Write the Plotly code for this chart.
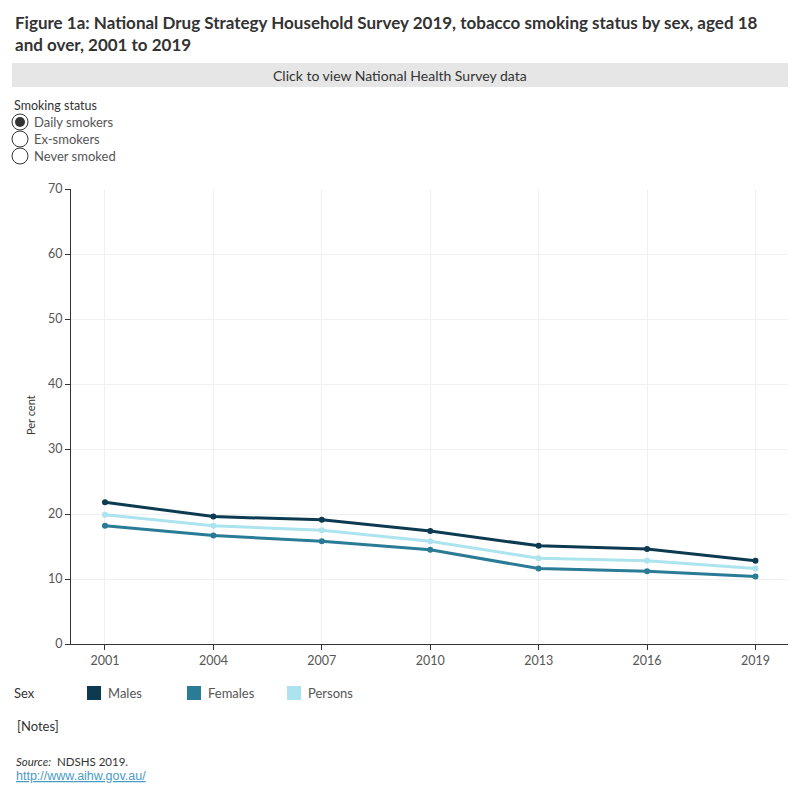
import plotly.graph_objects as go

years = [2001, 2004, 2007, 2010, 2013, 2016, 2019]
males = [21.8, 19.6, 19.1, 17.4, 15.1, 14.6, 12.8]
females = [18.2, 16.7, 15.8, 14.5, 11.6, 11.2, 10.4]
persons = [19.9, 18.2, 17.5, 15.8, 13.2, 12.8, 11.6]
series_names = ["Males", "Females", "Persons"]
colors = ["#0c3a51", "#2a7b96", "#abe3ef"]
y_ticks = [0, 10, 20, 30, 40, 50, 60, 70]
status_options = ["Daily smokers", "Ex-smokers", "Never smoked"]

FONT = "Lato"
W, H = 800, 800
# plot area in page pixels (page has an 8px body margin)
PL, PR, PT, PB = 71, 788, 189, 644
OFF = 8

fig = go.Figure()
for name, vals, col in [("Persons", persons, colors[2]), ("Females", females, colors[1]), ("Males", males, colors[0])]:
    fig.add_trace(go.Scatter(x=years, y=vals, name=name, mode="lines+markers",
                             line=dict(color=col, width=3), marker=dict(color=col, size=6),
                             showlegend=False))

def px(x):
    return (x - PL) / (PR - PL)

def py(y):
    return (PB - y) / (PB - PT)

shapes = []
annotations = []

def txt(x, y, text, size=12, color="#333333", xanchor="left", family=FONT, **kw):
    annotations.append(dict(x=px(x), y=py(y), xref="paper", yref="paper", xanchor=xanchor, yanchor="middle",
                            showarrow=False, text=text, align="left",
                            font=dict(family=family, size=size, color=color), **kw))

# Title
annotations.append(dict(x=px(13), y=py(10), xref="paper", yref="paper", xanchor="left", yanchor="top",
                        align="left", showarrow=False,
                        text="<b>Figure 1a: National Drug Strategy Household Survey 2019, tobacco smoking status by sex, aged 18<br>and over, 2001 to 2019</b>",
                        font=dict(family=FONT, size=17, color="#333333")))
# Button bar
shapes.append(dict(type="rect", xref="paper", yref="paper", x0=px(12), x1=px(788), y0=py(63), y1=py(87),
                   fillcolor="#e6e6e6", line=dict(width=0), layer="below"))
txt(400, 75, "Click to view National Health Survey data", size=14, xanchor="center")
# Radio filter
txt(12, 105, "Smoking status", size=12.5)
for i, opt in enumerate(status_options):
    cy = 122 + i * 17
    shapes.append(dict(type="circle", xref="paper", yref="paper", x0=px(12), x1=px(28), y0=py(cy - 8), y1=py(cy + 8),
                       line=dict(color="#333333", width=1), fillcolor="white"))
    if i == 0:
        shapes.append(dict(type="circle", xref="paper", yref="paper", x0=px(15), x1=px(25), y0=py(cy - 5), y1=py(cy + 5),
                           line=dict(width=0), fillcolor="#333333"))
    txt(32, cy, opt, size=13, color="#555555")

# Axis title
txt(30, 415, "Per cent", size=11, xanchor="center", textangle=-90)

# Legend
txt(12, 693, "Sex", size=13)
leg_x = [87, 187, 287]
for lx, name, col in zip(leg_x, series_names, colors):
    shapes.append(dict(type="rect", xref="paper", yref="paper", x0=px(lx), x1=px(lx + 14), y0=py(700), y1=py(686),
                       fillcolor=col, line=dict(width=0)))
    txt(lx + 19, 693, name, size=13, color="#555555")

txt(15, 726, "[Notes]", size=13)
txt(14, 761, "<i>Source:</i>  NDSHS 2019.", size=11.5)
txt(14, 776, "<u>http://www.aihw.gov.au/</u>", size=12.5, color="#4a9cc3", family="Liberation Sans")

axis_common = dict(showgrid=True, gridcolor="#f0f0f0", gridwidth=1, zeroline=False,
                   showline=True, linecolor="#333333", linewidth=1, ticks="outside", ticklen=5,
                   tickcolor="#333333", tickfont=dict(family=FONT, size=12.5, color="#555555"))

fig.update_layout(
    width=W, height=H, autosize=False,
    paper_bgcolor="white", plot_bgcolor="white",
    margin=dict(l=PL - OFF, r=W - (PR - OFF), t=PT - OFF, b=H - (PB - OFF), pad=0),
    shapes=shapes, annotations=annotations,
    font=dict(family=FONT, size=12, color="#555555"),
    xaxis=dict(range=[2000.06, 2019.9], tickmode="array", tickvals=years,
               ticktext=[str(y) for y in years], **axis_common),
    yaxis=dict(range=[0, 70], tickmode="array", tickvals=y_ticks, **axis_common),
)

fig.write_html("out.html")
